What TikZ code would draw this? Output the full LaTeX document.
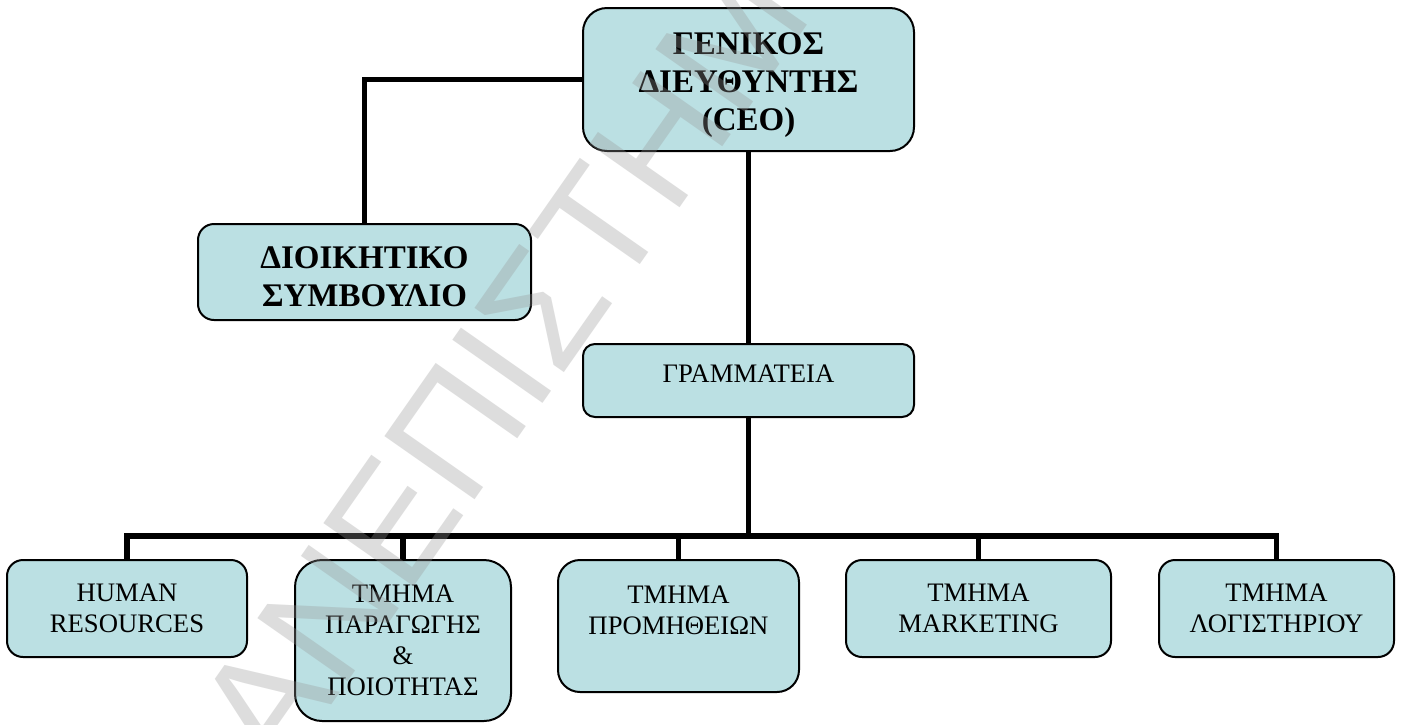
\documentclass[tikz,border=0pt]{standalone}
\usepackage{fontspec}
\setmainfont{Liberation Serif}
\newfontfamily\wmfont{Liberation Sans}
\usepackage{tikz}
\definecolor{boxfill}{RGB}{187,224,227}
\definecolor{wmgray}{RGB}{150,150,150}

\begin{document}
\begin{tikzpicture}[x=1pt, y=-1pt,
  unit/.style={draw=black, line width=2pt, fill=boxfill, inner sep=0pt, align=center},
  head/.style={unit, font=\fontsize{33}{38}\selectfont\bfseries},
  dept/.style={unit, font=\fontsize{26.7}{31}\selectfont},
  wire/.style={line width=5.5pt, black},
  wmark/.style={text=wmgray, text opacity=0.32, font=\wmfont\fontsize{160}{160}\selectfont, inner sep=0pt}]
  \useasboundingbox[fill=white] (0,0) rectangle (1401,724);

  \node[head, rounded corners=24pt, minimum width=331pt, minimum height=143pt] (ceo) at (748.5,79.5) {\rule{0pt}{33pt}ΓΕΝΙΚΟΣ\\ΔΙΕΥΘΥΝΤΗΣ\\(CEO)};
  \node[head, rounded corners=16pt, minimum width=333pt, minimum height=96pt] (board) at (364.5,272) {\rule{0pt}{32pt}ΔΙΟΙΚΗΤΙΚΟ\\ΣΥΜΒΟΥΛΙΟ};
  \node[dept, rounded corners=12pt, minimum width=331pt, minimum height=73pt, text depth=13pt] (secr) at (748.5,380.5) {ΓΡΑΜΜΑΤΕΙΑ};

  \node[dept, rounded corners=16pt, minimum width=240pt, minimum height=97pt] (hr) at (127,608.5) {HUMAN\\RESOURCES};
  \node[dept, rounded corners=27pt, minimum width=216pt, minimum height=161pt] (prod) at (403,640.5) {ΤΜΗΜΑ\\ΠΑΡΑΓΩΓΗΣ\\\&\\ΠΟΙΟΤΗΤΑΣ};
  \node[dept, rounded corners=22pt, minimum width=241pt, minimum height=132pt] (supply) at (678.5,626) {ΤΜΗΜΑ\\ΠΡΟΜΗΘΕΙΩΝ\\\mbox{}};
  \node[dept, rounded corners=16pt, minimum width=265pt, minimum height=97pt] (mkt) at (978.5,608.5) {ΤΜΗΜΑ\\MARKETING};
  \node[dept, rounded corners=16pt, minimum width=235pt, minimum height=97pt] (acct) at (1276.5,608.5) {ΤΜΗΜΑ\\ΛΟΓΙΣΤΗΡΙΟΥ};

  \coordinate (bus) at (748.5,536);
  \draw[wire] (ceo.west) -| (board.north);
  \draw[wire] (ceo.south) -- (secr.north);
  \draw[wire] (secr.south) -- (bus);
  \foreach \d in {hr, prod, supply, mkt, acct}
    \draw[wire] (bus) -| (\d.north);

  \begin{scope}
    \clip (0,0) rectangle (1401,724);
    \node[wmark, anchor=base west, rotate=55] (wm) at (279,780) {ΑΝΕΠΙΣΤΗΜ};
  \end{scope}
\end{tikzpicture}
\end{document}
